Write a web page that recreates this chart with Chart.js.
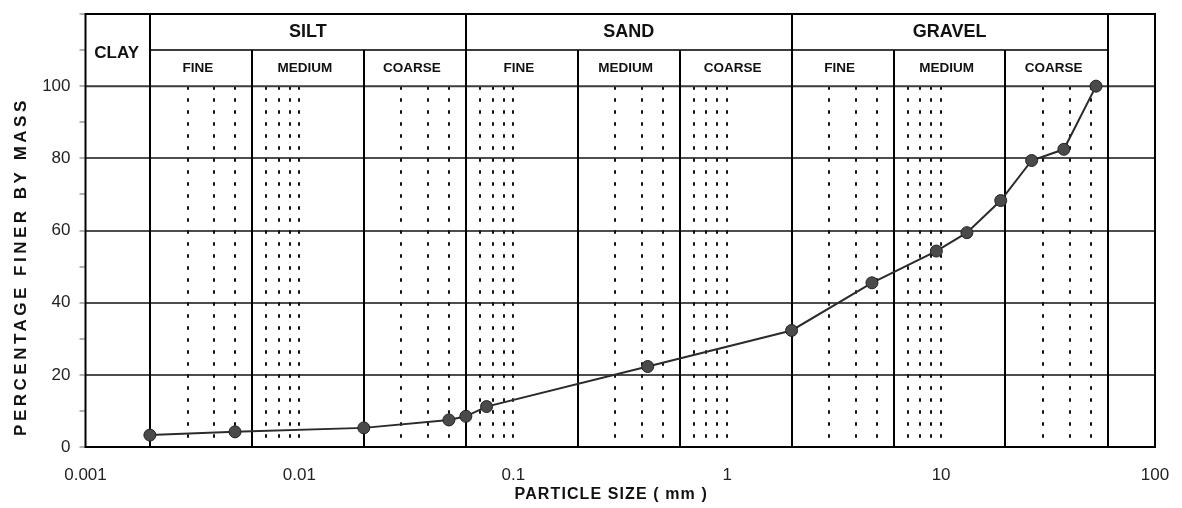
<!DOCTYPE html>
<html lang="en">
<head>
  <meta charset="UTF-8">
  <title>Particle Size Distribution</title>
  <script src="https://cdn.jsdelivr.net/npm/chart.js"></script>
  <style>
    html, body { margin: 0; padding: 0; background: #fff; }
    #psd-wrapper { width: 1182px; height: 508px; position: relative; }
  </style>
</head>
<body>

<div id="psd-wrapper">
  <canvas id="psdChart"></canvas>
</div>

<script>
  // hydrometer + sieve results
  const particleSize = [0.002, 0.005, 0.02, 0.05, 0.06, 0.075, 0.425, 2, 4.75, 9.5, 13.2, 19, 26.5, 37.5, 53];
  const percentFiner = [3.3, 4.2, 5.3, 7.5, 8.5, 11.2, 22.3, 32.3, 45.5, 54.3, 59.4, 68.3, 79.4, 82.5, 100];

  const xTickValues = [0.001, 0.01, 0.1, 1, 10, 100];
  const yTickLabels = [0, 20, 40, 60, 80, 100];

  // classification boundaries in mm (every third one closes a main class)
  const classBounds = [0.002, 0.006, 0.02, 0.06, 0.2, 0.6, 2, 6, 20, 60];
  const mainLabels = ['SILT', 'SAND', 'GRAVEL'];
  const subLabels = ['FINE', 'MEDIUM', 'COARSE'];
  const dottedSizes = [0.003, 0.004, 0.005, 0.007, 0.008, 0.009, 0.01, 0.03, 0.04, 0.05,
                       0.07, 0.08, 0.09, 0.1, 0.3, 0.4, 0.5, 0.7, 0.8, 0.9, 1,
                       3, 4, 5, 7, 8, 9, 10, 30, 40, 50];

  const FONT = '"Liberation Sans", Arial, sans-serif';

  function midLog(a, b) { return Math.sqrt(a * b); }

  const soilGrid = {
    id: 'soilGrid',
    beforeDatasetsDraw(chart) {
      const { ctx, chartArea: a, scales: { x, y } } = chart;
      const y0 = y.getPixelForValue(0), y100 = y.getPixelForValue(100);
      const y110 = y.getPixelForValue(110), y120 = y.getPixelForValue(120);
      ctx.save();

      // dotted sub-division lines
      ctx.strokeStyle = '#111';
      ctx.lineWidth = 2;
      ctx.setLineDash([3.5, 8.5]);
      dottedSizes.forEach(v => {
        const px = Math.round(x.getPixelForValue(v));
        ctx.beginPath();
        ctx.moveTo(px, y100);
        ctx.lineTo(px, y0);
        ctx.stroke();
      });
      ctx.setLineDash([]);

      // header row lines
      ctx.strokeStyle = '#3c3c3c';
      ctx.beginPath();
      ctx.moveTo(x.getPixelForValue(classBounds[0]), y110);
      ctx.lineTo(x.getPixelForValue(classBounds[classBounds.length - 1]), y110);
      ctx.moveTo(a.left, y100);
      ctx.lineTo(a.right, y100);
      ctx.stroke();

      // solid boundaries
      ctx.strokeStyle = '#000';
      classBounds.forEach((v, i) => {
        const px = Math.round(x.getPixelForValue(v));
        ctx.beginPath();
        ctx.moveTo(px, y0);
        ctx.lineTo(px, i % 3 === 0 ? y120 : y110);
        ctx.stroke();
      });
      ctx.strokeRect(a.left, y120, a.right - a.left, y0 - y120);

      // header texts
      ctx.fillStyle = '#111';
      ctx.textAlign = 'center';
      ctx.textBaseline = 'middle';
      ctx.font = 'bold 17px ' + FONT;
      ctx.fillText('CLAY', (a.left + x.getPixelForValue(classBounds[0])) / 2 - 1, y.getPixelForValue(109.2));
      ctx.font = 'bold 18px ' + FONT;
      mainLabels.forEach((t, i) => {
        const cx = x.getPixelForValue(midLog(classBounds[i * 3], classBounds[i * 3 + 3]));
        ctx.fillText(t, cx, y.getPixelForValue(115));
      });
      ctx.font = 'bold 13.5px ' + FONT;
      for (let i = 0; i < classBounds.length - 1; i++) {
        const cx = x.getPixelForValue(midLog(classBounds[i], classBounds[i + 1]));
        ctx.fillText(subLabels[i % 3], cx - 3, y.getPixelForValue(105));
      }
      ctx.restore();
    },
    afterDraw(chart) {
      const { ctx, chartArea: a, scales: { y } } = chart;
      ctx.save();
      ctx.fillStyle = '#111';
      ctx.textAlign = 'center';
      ctx.textBaseline = 'middle';
      ctx.font = 'bold 16px ' + FONT;
      ctx.letterSpacing = '1.1px';
      ctx.fillText('PARTICLE SIZE ( mm )', (a.left + a.right) / 2 - 9, 495);
      ctx.translate(21, y.getPixelForValue(50));
      ctx.rotate(-Math.PI / 2);
      ctx.font = 'bold 17px ' + FONT;
      ctx.letterSpacing = '3.5px';
      ctx.fillText('PERCENTAGE FINER BY MASS', 0, 0);
      ctx.restore();
    }
  };

  const ctx = document.getElementById('psdChart').getContext('2d');

  const psdChart = new Chart(ctx, {
    type: 'scatter',
    data: {
      datasets: [{
        label: 'Percentage finer',
        data: particleSize.map((s, i) => ({ x: s, y: percentFiner[i] })),
        showLine: true,
        borderColor: '#2b2b2b',
        borderWidth: 2,
        pointRadius: 6,
        pointBackgroundColor: '#4a4a4a',
        pointBorderColor: '#222',
        pointBorderWidth: 1,
        tension: 0
      }]
    },
    options: {
      responsive: true,
      maintainAspectRatio: false,
      animation: false,
      layout: { padding: { top: 14, right: 27, left: 0, bottom: 0 } },
      plugins: {
        legend: { display: false },
        tooltip: { enabled: false }
      },
      scales: {
        x: {
          type: 'logarithmic',
          min: 0.001,
          max: 100,
          afterBuildTicks: scale => { scale.ticks = xTickValues.map(v => ({ value: v })); },
          afterFit: scale => {
            scale.height = 61;
            scale.paddingLeft = 0;
            scale.paddingRight = 0;
          },
          grid: { display: false, drawTicks: false },
          border: { display: false },
          ticks: {
            padding: 18,
            color: '#222',
            font: { family: FONT, size: 17 },
            callback: v => String(v)
          }
        },
        y: {
          min: 0,
          max: 120,
          afterBuildTicks: scale => {
            const t = [];
            for (let v = 0; v <= 120; v += 10) t.push({ value: v });
            scale.ticks = t;
          },
          afterFit: scale => {
            scale.width = 85.5;
            scale.paddingTop = 0;
            scale.paddingBottom = 0;
          },
          border: { display: false },
          grid: {
            lineWidth: 2,
            color: c => (c.tick && c.tick.value > 0 && c.tick.value < 100 && c.tick.value % 20 === 0) ? '#4d4d4d' : 'rgba(0,0,0,0)',
            tickColor: '#666',
            tickLength: 6,
            tickWidth: 1
          },
          ticks: {
            padding: 9,
            color: '#222',
            font: { family: FONT, size: 17 },
            callback: v => yTickLabels.includes(v) ? String(v) : ''
          }
        }
      }
    },
    plugins: [soilGrid]
  });
</script>

</body>
</html>
